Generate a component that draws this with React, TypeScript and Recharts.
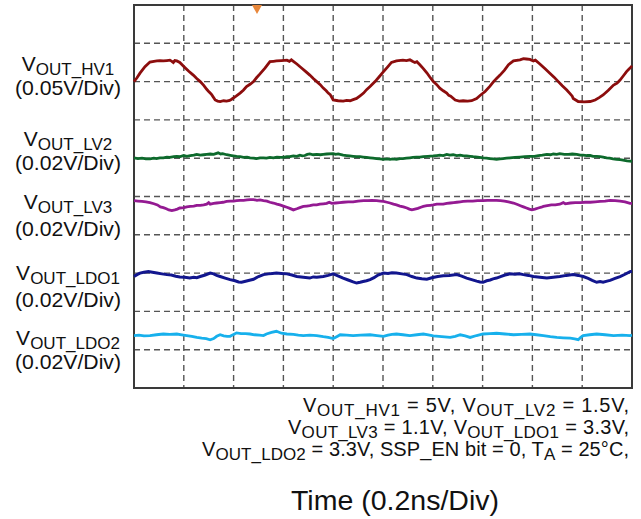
import React from "react";
import {
  LineChart,
  Line,
  XAxis,
  YAxis,
  CartesianGrid,
  ReferenceArea,
  ReferenceDot,
} from "recharts";

// time in divisions (0.2ns/Div), amplitude in screen divisions (0 = centre line)
const hv1: [number, number][] = [
  [0, 3.0], [0.06, 3.1], [0.12, 3.22], [0.22, 3.39], [0.32, 3.51], [0.4, 3.53], [0.46, 3.54],
  [0.52, 3.55], [0.59, 3.54], [0.66, 3.55], [0.72, 3.56], [0.76, 3.53], [0.79, 3.5], [0.82, 3.55],
  [0.86, 3.54], [0.92, 3.5], [1.02, 3.37], [1.1, 3.27], [1.19, 3.17], [1.26, 3.08], [1.33, 3.0],
  [1.4, 2.9], [1.46, 2.8], [1.5, 2.74], [1.53, 2.7], [1.56, 2.66], [1.63, 2.52], [1.68, 2.49],
  [1.73, 2.48], [1.8, 2.5], [1.86, 2.49], [1.92, 2.51], [1.96, 2.54], [2.05, 2.62], [2.13, 2.7],
  [2.2, 2.78], [2.26, 2.87], [2.33, 2.93], [2.4, 3.0], [2.46, 3.1], [2.53, 3.2], [2.63, 3.35],
  [2.73, 3.52], [2.8, 3.53], [2.86, 3.54], [2.96, 3.55], [3.07, 3.56], [3.12, 3.53], [3.16, 3.57],
  [3.2, 3.53], [3.27, 3.46], [3.37, 3.35], [3.45, 3.26], [3.53, 3.17], [3.6, 3.08], [3.67, 3.0],
  [3.74, 2.92], [3.8, 2.83], [3.86, 2.76], [3.9, 2.7], [3.94, 2.66], [4.0, 2.52], [4.1, 2.5],
  [4.2, 2.49], [4.27, 2.51], [4.34, 2.5], [4.4, 2.53], [4.47, 2.56], [4.54, 2.63], [4.61, 2.7],
  [4.67, 2.79], [4.74, 2.87], [4.84, 3.0], [4.92, 3.12], [5.01, 3.26], [5.09, 3.38], [5.17, 3.5],
  [5.27, 3.54], [5.4, 3.56], [5.47, 3.55], [5.54, 3.57], [5.59, 3.53], [5.64, 3.5], [5.68, 3.52],
  [5.74, 3.44], [5.81, 3.34], [5.88, 3.23], [5.94, 3.12], [6.01, 3.0], [6.08, 2.92], [6.14, 2.83],
  [6.21, 2.76], [6.28, 2.7], [6.32, 2.64], [6.36, 2.62], [6.45, 2.52], [6.53, 2.49], [6.61, 2.5],
  [6.7, 2.49], [6.78, 2.5], [6.88, 2.56], [6.96, 2.65], [7.05, 2.74], [7.14, 2.87], [7.22, 3.0],
  [7.28, 3.08], [7.35, 3.17], [7.44, 3.3], [7.52, 3.44], [7.62, 3.54], [7.75, 3.57], [7.82, 3.6],
  [7.88, 3.59], [7.95, 3.58], [8.02, 3.54], [8.06, 3.56], [8.15, 3.46], [8.25, 3.34], [8.35, 3.22],
  [8.44, 3.11], [8.52, 3.0], [8.6, 2.89], [8.69, 2.78], [8.76, 2.68], [8.8, 2.62], [8.82, 2.56],
  [8.92, 2.48], [9.04, 2.47], [9.16, 2.48], [9.26, 2.52], [9.34, 2.58], [9.42, 2.65], [9.52, 2.77],
  [9.63, 2.91], [9.7, 2.96], [9.76, 3.04], [9.82, 3.14], [9.89, 3.26], [9.95, 3.34], [10, 3.41],
];

const lv2: [number, number][] = [
  [0, 1.01], [0.08, 0.99], [0.16, 1.0], [0.24, 0.98], [0.32, 0.98], [0.4, 1.0], [0.45, 0.99],
  [0.52, 1.01], [0.59, 1.01], [0.66, 1.03], [0.72, 1.02], [0.8, 1.04], [0.86, 1.05], [0.93, 1.04],
  [1.0, 1.07], [1.06, 1.05], [1.13, 1.07], [1.2, 1.08], [1.26, 1.1], [1.33, 1.08], [1.4, 1.09],
  [1.46, 1.1], [1.53, 1.11], [1.6, 1.1], [1.69, 1.14], [1.74, 1.11], [1.78, 1.12], [1.86, 1.09],
  [1.96, 1.07], [2.06, 1.05], [2.13, 1.04], [2.2, 1.02], [2.27, 1.03], [2.33, 1.01], [2.4, 1.0],
  [2.46, 0.99], [2.53, 1.01], [2.6, 1.01], [2.66, 1.0], [2.73, 1.02], [2.8, 1.01], [2.87, 1.03],
  [2.94, 1.02], [3.0, 1.02], [3.07, 1.04], [3.13, 1.04], [3.2, 1.06], [3.27, 1.05], [3.33, 1.08],
  [3.38, 1.06], [3.43, 1.07], [3.48, 1.1], [3.53, 1.11], [3.6, 1.09], [3.67, 1.1], [3.74, 1.09],
  [3.8, 1.1], [3.87, 1.11], [4.0, 1.12], [4.05, 1.1], [4.1, 1.11], [4.2, 1.08], [4.27, 1.07],
  [4.33, 1.06], [4.4, 1.05], [4.47, 1.04], [4.54, 1.04], [4.6, 1.03], [4.67, 1.02], [4.74, 1.01],
  [4.8, 1.0], [4.87, 0.99], [4.94, 0.98], [5.01, 0.97], [5.08, 0.98], [5.14, 0.97], [5.2, 0.98],
  [5.27, 0.97], [5.34, 0.99], [5.4, 0.99], [5.47, 1.0], [5.54, 1.01], [5.6, 1.02], [5.67, 1.03],
  [5.74, 1.03], [5.81, 1.04], [5.9, 1.05], [6.01, 1.06], [6.08, 1.07], [6.14, 1.08], [6.21, 1.07],
  [6.28, 1.1], [6.34, 1.08], [6.41, 1.09], [6.48, 1.07], [6.55, 1.08], [6.62, 1.06], [6.68, 1.06],
  [6.75, 1.05], [6.81, 1.04], [6.9, 1.03], [7.01, 1.01], [7.08, 1.0], [7.14, 0.99], [7.21, 0.98],
  [7.28, 0.97], [7.35, 0.98], [7.41, 0.99], [7.48, 1.0], [7.55, 1.01], [7.65, 1.02], [7.75, 1.03],
  [7.85, 1.04], [7.95, 1.05], [8.04, 1.05], [8.12, 1.07], [8.2, 1.08], [8.29, 1.1], [8.36, 1.09],
  [8.42, 1.11], [8.49, 1.1], [8.55, 1.12], [8.64, 1.1], [8.72, 1.1], [8.8, 1.11], [8.89, 1.1],
  [8.96, 1.08], [9.02, 1.08], [9.09, 1.07], [9.16, 1.07], [9.22, 1.05], [9.29, 1.05], [9.36, 1.04],
  [9.42, 1.03], [9.49, 1.01], [9.55, 1.0], [9.62, 0.98], [9.69, 0.97], [9.76, 0.96], [9.82, 0.95],
  [9.9, 0.93], [10, 0.92],
];

const lv3: [number, number][] = [
  [0, -0.11], [0.08, -0.12], [0.16, -0.13], [0.24, -0.14], [0.32, -0.16], [0.4, -0.19], [0.47, -0.22],
  [0.53, -0.27], [0.59, -0.29], [0.65, -0.32], [0.7, -0.35], [0.76, -0.37], [0.82, -0.35], [0.87, -0.33],
  [0.92, -0.3], [1.0, -0.29], [1.06, -0.27], [1.13, -0.26], [1.2, -0.25], [1.26, -0.23], [1.33, -0.23],
  [1.4, -0.22], [1.46, -0.2], [1.5, -0.16], [1.53, -0.2], [1.6, -0.18], [1.66, -0.17], [1.73, -0.16],
  [1.79, -0.15], [1.86, -0.13], [1.93, -0.12], [2.0, -0.12], [2.06, -0.11], [2.13, -0.1], [2.2, -0.1],
  [2.27, -0.09], [2.33, -0.08], [2.4, -0.08], [2.47, -0.1], [2.53, -0.09], [2.6, -0.11], [2.67, -0.12],
  [2.73, -0.15], [2.8, -0.17], [2.87, -0.2], [2.93, -0.22], [3.0, -0.25], [3.07, -0.28], [3.13, -0.31],
  [3.2, -0.35], [3.27, -0.32], [3.33, -0.29], [3.4, -0.26], [3.47, -0.25], [3.53, -0.24], [3.6, -0.22],
  [3.67, -0.22], [3.73, -0.2], [3.8, -0.19], [3.87, -0.18], [3.92, -0.15], [3.97, -0.18], [4.05, -0.17],
  [4.13, -0.16], [4.2, -0.15], [4.3, -0.14], [4.4, -0.14], [4.5, -0.12], [4.61, -0.11], [4.7, -0.11],
  [4.78, -0.1], [4.87, -0.11], [4.95, -0.12], [5.01, -0.13], [5.08, -0.15], [5.14, -0.17], [5.21, -0.2],
  [5.27, -0.22], [5.34, -0.25], [5.41, -0.27], [5.48, -0.3], [5.53, -0.33], [5.58, -0.35], [5.64, -0.33],
  [5.7, -0.31], [5.76, -0.28], [5.81, -0.26], [5.88, -0.24], [5.95, -0.23], [6.01, -0.22], [6.08, -0.2],
  [6.15, -0.2], [6.21, -0.2], [6.28, -0.18], [6.35, -0.17], [6.42, -0.16], [6.48, -0.15], [6.55, -0.14],
  [6.61, -0.13], [6.7, -0.12], [6.8, -0.12], [6.9, -0.11], [7.01, -0.11], [7.1, -0.1], [7.2, -0.1],
  [7.28, -0.1], [7.36, -0.11], [7.44, -0.12], [7.52, -0.14], [7.62, -0.17], [7.7, -0.21], [7.76, -0.24],
  [7.82, -0.27], [7.88, -0.3], [7.94, -0.33], [7.99, -0.35], [8.05, -0.33], [8.12, -0.3], [8.18, -0.28],
  [8.22, -0.26], [8.3, -0.24], [8.38, -0.22], [8.46, -0.22], [8.55, -0.2], [8.62, -0.16], [8.66, -0.19],
  [8.76, -0.17], [8.86, -0.16], [8.96, -0.16], [9.06, -0.15], [9.16, -0.15], [9.26, -0.14], [9.36, -0.13],
  [9.46, -0.12], [9.56, -0.1], [9.66, -0.11], [9.76, -0.12], [9.86, -0.14], [9.96, -0.18], [10, -0.18],
];

const ldo1: [number, number][] = [
  [0, -2.09], [0.06, -2.04], [0.12, -2.0], [0.2, -1.98], [0.29, -1.96], [0.37, -1.98], [0.46, -2.0],
  [0.56, -2.02], [0.66, -2.04], [0.75, -2.05], [0.84, -2.08], [0.92, -2.1], [1.02, -2.11], [1.12, -2.13],
  [1.2, -2.11], [1.26, -2.12], [1.33, -2.09], [1.43, -2.05], [1.53, -2.0], [1.6, -2.02], [1.66, -2.06],
  [1.73, -2.09], [1.83, -2.13], [1.93, -2.17], [2.03, -2.2], [2.1, -2.23], [2.16, -2.24], [2.22, -2.22],
  [2.28, -2.2], [2.34, -2.18], [2.4, -2.16], [2.5, -2.09], [2.6, -2.04], [2.7, -2.02], [2.78, -2.01],
  [2.86, -2.0], [2.96, -2.01], [3.07, -2.02], [3.17, -2.05], [3.27, -2.09], [3.4, -2.11], [3.53, -2.13],
  [3.6, -2.1], [3.67, -2.11], [3.8, -2.09], [3.9, -2.06], [4.0, -2.02], [4.06, -2.05], [4.13, -2.09],
  [4.2, -2.13], [4.3, -2.18], [4.4, -2.23], [4.47, -2.26], [4.54, -2.24], [4.6, -2.22], [4.67, -2.2],
  [4.74, -2.17], [4.82, -2.12], [4.9, -2.05], [5.01, -2.0], [5.1, -2.01], [5.18, -1.99], [5.27, -2.0],
  [5.38, -2.02], [5.48, -2.04], [5.58, -2.09], [5.68, -2.13], [5.78, -2.15], [5.88, -2.16], [5.98, -2.12],
  [6.1, -2.09], [6.21, -2.07], [6.33, -2.06], [6.48, -2.04], [6.58, -2.08], [6.68, -2.13], [6.78, -2.17],
  [6.88, -2.21], [6.95, -2.23], [7.01, -2.24], [7.08, -2.2], [7.15, -2.18], [7.21, -2.15], [7.28, -2.13],
  [7.36, -2.09], [7.45, -2.05], [7.55, -2.02], [7.65, -2.03], [7.74, -2.02], [7.82, -2.04], [7.92, -2.06],
  [8.02, -2.09], [8.15, -2.11], [8.29, -2.13], [8.42, -2.11], [8.55, -2.09], [8.68, -2.06], [8.82, -2.04],
  [8.92, -2.06], [9.02, -2.09], [9.12, -2.14], [9.2, -2.19], [9.29, -2.24], [9.36, -2.22], [9.42, -2.24],
  [9.5, -2.21], [9.56, -2.19], [9.66, -2.14], [9.76, -2.09], [9.86, -2.03], [9.96, -1.96], [10, -1.95],
];

const ldo2: [number, number][] = [
  [0, -3.63], [0.1, -3.62], [0.2, -3.64], [0.32, -3.63], [0.45, -3.61], [0.59, -3.59], [0.72, -3.6],
  [0.86, -3.59], [0.96, -3.61], [1.06, -3.63], [1.16, -3.65], [1.26, -3.68], [1.36, -3.7], [1.45, -3.71],
  [1.53, -3.74], [1.6, -3.71], [1.66, -3.65], [1.73, -3.61], [1.8, -3.64], [1.87, -3.65], [1.93, -3.65],
  [2.0, -3.6], [2.06, -3.56], [2.15, -3.58], [2.24, -3.58], [2.33, -3.59], [2.42, -3.61], [2.52, -3.62],
  [2.6, -3.63], [2.66, -3.59], [2.76, -3.55], [2.86, -3.52], [2.96, -3.57], [3.07, -3.59], [3.2, -3.6],
  [3.3, -3.62], [3.4, -3.63], [3.53, -3.62], [3.67, -3.63], [3.8, -3.66], [3.9, -3.68], [4.0, -3.71],
  [4.07, -3.66], [4.14, -3.61], [4.27, -3.62], [4.4, -3.63], [4.55, -3.62], [4.74, -3.61], [4.88, -3.63],
  [5.01, -3.65], [5.1, -3.62], [5.18, -3.6], [5.27, -3.59], [5.4, -3.61], [5.54, -3.63], [5.68, -3.61],
  [5.81, -3.59], [5.91, -3.61], [6.01, -3.64], [6.18, -3.66], [6.35, -3.68], [6.45, -3.65], [6.55, -3.61],
  [6.65, -3.64], [6.75, -3.68], [6.88, -3.63], [7.01, -3.59], [7.15, -3.58], [7.28, -3.57], [7.45, -3.59],
  [7.62, -3.61], [7.78, -3.6], [7.95, -3.59], [8.08, -3.61], [8.22, -3.63], [8.36, -3.66], [8.49, -3.68],
  [8.62, -3.69], [8.76, -3.7], [8.85, -3.72], [8.92, -3.74], [8.97, -3.68], [9.02, -3.63], [9.15, -3.61],
  [9.29, -3.59], [9.46, -3.61], [9.63, -3.63], [9.8, -3.62], [9.96, -3.63], [10, -3.62],
];

const channelNames = ["HV1", "LV2", "LV3", "LDO1", "LDO2"];
const channelScales = ["(0.05V/Div)", "(0.02V/Div)", "(0.02V/Div)", "(0.02V/Div)", "(0.02V/Div)"];
const timeTicks = [0, 1, 2, 3, 4, 5, 6, 7, 8, 9, 10];
const divTicks = [-5, -4, -3, -2, -1, 0, 1, 2, 3, 4, 5];
const triggerTime = 2.47;

const series = [
  { name: "HV1", points: hv1, color: "#8c0d0d", width: 2.8 },
  { name: "LV2", points: lv2, color: "#0d6a2c", width: 2.8 },
  { name: "LV3", points: lv3, color: "#941a92", width: 2.8 },
  { name: "LDO1", points: ldo1, color: "#12168e", width: 3 },
  { name: "LDO2", points: ldo2, color: "#17b0ec", width: 2.8 },
];

// baselines for the two-line channel labels on the left
const labelRows = [
  [71, 95],
  [146, 170],
  [209, 236],
  [280, 307],
  [345, 369],
];

const font = "'Liberation Sans', Arial, sans-serif";

const Triangle = (props: any) => {
  const { cx, cy } = props;
  return <path d={`M${cx - 5},${cy} L${cx + 5},${cy} L${cx},${cy + 9} Z`} fill="#e8873a" />;
};

export default function App() {
  return (
    <div style={{ position: "absolute", left: 0, top: 0, width: 641, height: 519, background: "#fff" }}>
      <LineChart width={641} height={519} margin={{ top: 5, right: 9, bottom: 131, left: 134 }}>
        <XAxis type="number" dataKey="t" domain={[0, 10]} ticks={timeTicks} hide />
        <YAxis type="number" dataKey="v" domain={[-5, 5]} ticks={divTicks} hide />
        <CartesianGrid stroke="#555" strokeWidth={1.4} strokeDasharray="6 4" />
        {series.map((s) => (
          <Line
            key={s.name}
            data={s.points.map(([t, v]) => ({ t, v }))}
            dataKey="v"
            type="linear"
            stroke={s.color}
            strokeWidth={s.width}
            dot={false}
            activeDot={false}
            isAnimationActive={false}
          />
        ))}
        <ReferenceArea x1={0} x2={10} y1={-5} y2={5} fill="none" stroke="#3a3a3a" strokeWidth={2} />
        <ReferenceDot x={triggerTime} y={5} shape={Triangle} />
      </LineChart>
      <svg
        width={641}
        height={519}
        style={{ position: "absolute", left: 0, top: 0, pointerEvents: "none" }}
        fontFamily={font}
      >
        {channelNames.map((n, i) => (
          <g key={n} fill="#111">
            <text x={68} y={labelRows[i][0]} textAnchor="middle" fontSize={21}>
              <tspan>V</tspan>
              <tspan fontSize={17} dy={4}>
                {"OUT_" + n}
              </tspan>
            </text>
            <text
              x={68}
              y={labelRows[i][1]}
              textAnchor="middle"
              fontSize={21}
              textLength={106}
              lengthAdjust="spacingAndGlyphs"
            >
              {channelScales[i]}
            </text>
          </g>
        ))}
        <g fill="#111" fontSize={20} textAnchor="end">
          <text x={629} y={412} textLength={326}>
            <tspan>V</tspan>
            <tspan fontSize={17} dy={4}>OUT_HV1</tspan>
            <tspan dy={-4}> = 5V, V</tspan>
            <tspan fontSize={17} dy={4}>OUT_LV2</tspan>
            <tspan dy={-4}> = 1.5V,</tspan>
          </text>
          <text x={629} y={434} textLength={341}>
            <tspan>V</tspan>
            <tspan fontSize={17} dy={4}>OUT_LV3</tspan>
            <tspan dy={-4}> = 1.1V, V</tspan>
            <tspan fontSize={17} dy={4}>OUT_LDO1</tspan>
            <tspan dy={-4}> = 3.3V,</tspan>
          </text>
          <text x={629} y={456} textLength={427}>
            <tspan>V</tspan>
            <tspan fontSize={17} dy={4}>OUT_LDO2</tspan>
            <tspan dy={-4}> = 3.3V, SSP_EN bit = 0, T</tspan>
            <tspan fontSize={17} dy={4}>A</tspan>
            <tspan dy={-4}> = 25°C,</tspan>
          </text>
        </g>
        <text
          x={395}
          y={510}
          textAnchor="middle"
          fontSize={27}
          fill="#111"
          textLength={208}
          lengthAdjust="spacingAndGlyphs"
        >
          Time (0.2ns/Div)
        </text>
      </svg>
    </div>
  );
}
